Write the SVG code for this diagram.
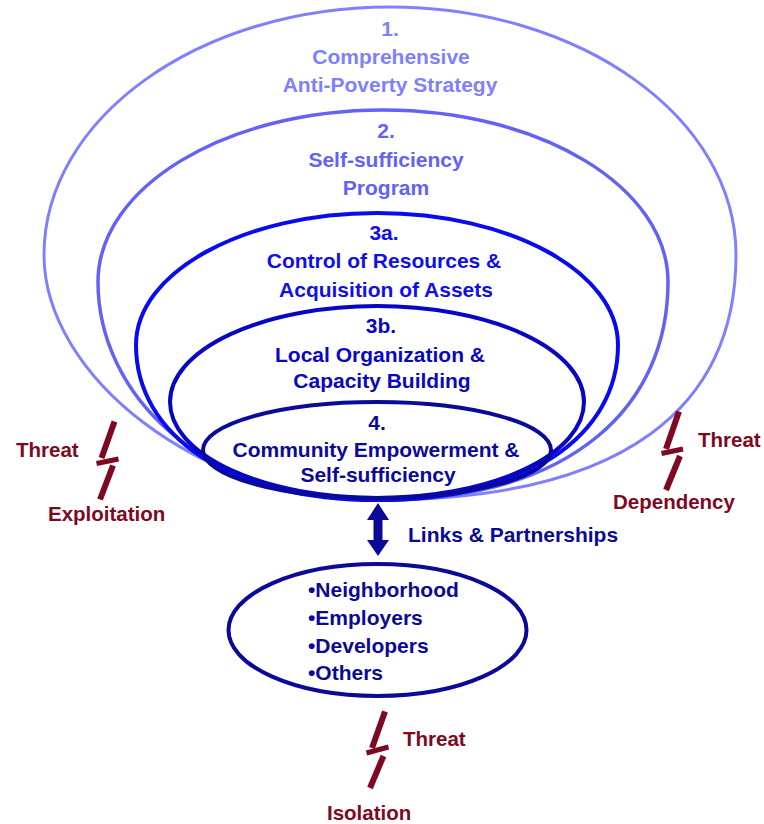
<svg xmlns="http://www.w3.org/2000/svg" width="764" height="824" viewBox="0 0 764 824">
  <style>
    text { font-family: "Liberation Sans", Arial, sans-serif; font-weight: bold; font-size: 21px; }
    .mid { text-anchor: middle; }
    .ring { fill: none; }
    .t1 { fill: #8080FF; }
    .t2 { fill: #6262F6; }
    .t3a { fill: #1010E6; }
    .t3b { fill: #0808C4; }
    .t4 { fill: #0A0A96; }
    .threat { fill: #7D0A22; font-size: 20.5px; }
    .bolt { stroke: #7D0A22; stroke-width: 6; stroke-linecap: butt; fill: none; }
    .bar { stroke: #7D0A22; stroke-width: 5; stroke-linecap: butt; fill: none; }
  </style>

  <!-- nested levels, outermost first -->
  <g id="level-1">
    <path class="ring" stroke="#8080FF" stroke-width="3" d="M 378 500 C 198 500 44 375 44 255 C 44 118 199 7 390 7 C 581 7 736 118 736 255 C 736 405 628 500 378 500 Z"/>
    <text class="mid t1" x="390" y="36">1.</text>
    <text class="mid t1" x="391" y="64">Comprehensive</text>
    <text class="mid t1" x="390" y="92">Anti-Poverty Strategy</text>
  </g>

  <g id="level-2">
    <path class="ring" stroke="#6262F6" stroke-width="3.5" d="M 378 500 C 198 500 98 392 98 282 C 98 187 225.6 110 383 110 C 540.4 110 668 187 668 282 C 668 402 578 500 378 500 Z"/>
    <text class="mid t2" x="386" y="138">2.</text>
    <text class="mid t2" x="386" y="167">Self-sufficiency</text>
    <text class="mid t2" x="386" y="195">Program</text>
  </g>

  <g id="level-3a">
    <path class="ring" stroke="#0A0AF0" stroke-width="4" d="M 378 500 C 228 500 136 435 136 345 C 136 272 243.9 213 377 213 C 510.1 213 618 272 618 345 C 618 435 528 500 378 500 Z"/>
    <text class="mid t3a" x="384" y="240">3a.</text>
    <text class="mid t3a" x="384" y="268">Control of Resources &amp;</text>
    <text class="mid t3a" x="386" y="297">Acquisition of Assets</text>
  </g>

  <g id="level-3b">
    <ellipse class="ring" stroke="#0606C4" stroke-width="4" cx="377" cy="402" rx="207" ry="96"/>
    <text class="mid t3b" x="381" y="333">3b.</text>
    <text class="mid t3b" x="380" y="362">Local Organization &amp;</text>
    <text class="mid t3b" x="382" y="388">Capacity Building</text>
  </g>

  <g id="level-4">
    <ellipse class="ring" stroke="#0A0A96" stroke-width="4" cx="377" cy="450" rx="174" ry="48"/>
    <text class="mid t4" x="377" y="430">4.</text>
    <text class="mid t4" x="376" y="457">Community Empowerment &amp;</text>
    <text class="mid t4" x="378" y="482">Self-sufficiency</text>
  </g>

  <g id="partners">
    <ellipse class="ring" stroke="#0A0A96" stroke-width="4" cx="377.5" cy="630" rx="149" ry="66"/>
    <text class="t4" x="308" y="597">•Neighborhood</text>
    <text class="t4" x="308" y="625">•Employers</text>
    <text class="t4" x="308" y="653">•Developers</text>
    <text class="t4" x="308" y="680">•Others</text>
  </g>

  <!-- link between the community and its partners -->
  <g id="connectors">
    <polygon fill="#0A0A96" points="378,503 389,520 382.5,520 382.5,540 389,540 378,556 367,540 373.5,540 373.5,520 367,520"/>
    <text class="t4" x="408" y="542">Links &amp; Partnerships</text>
  </g>

  <!-- threats -->
  <g id="threat-exploitation">
    <line class="bolt" x1="114.5" y1="421.5" x2="101.5" y2="458"/>
    <line class="bar" x1="96.5" y1="463.5" x2="118.5" y2="459"/>
    <line class="bolt" x1="113" y1="465.5" x2="100" y2="499.5"/>
    <text class="threat" x="16" y="457">Threat</text>
    <text class="threat" x="48" y="521">Exploitation</text>
  </g>

  <g id="threat-dependency">
    <line class="bolt" x1="679" y1="411.5" x2="666" y2="449"/>
    <line class="bar" x1="661.5" y1="453.5" x2="683" y2="449"/>
    <line class="bolt" x1="680" y1="456" x2="666" y2="490"/>
    <text class="threat" x="698" y="447">Threat</text>
    <text class="threat" x="613" y="509">Dependency</text>
  </g>

  <g id="threat-isolation">
    <line class="bolt" x1="385" y1="711.5" x2="372" y2="748"/>
    <line class="bar" x1="366.5" y1="753" x2="388.5" y2="747"/>
    <line class="bolt" x1="383.5" y1="756" x2="370" y2="788"/>
    <text class="threat" x="403" y="746">Threat</text>
    <text class="threat" x="327" y="820">Isolation</text>
  </g>
</svg>
